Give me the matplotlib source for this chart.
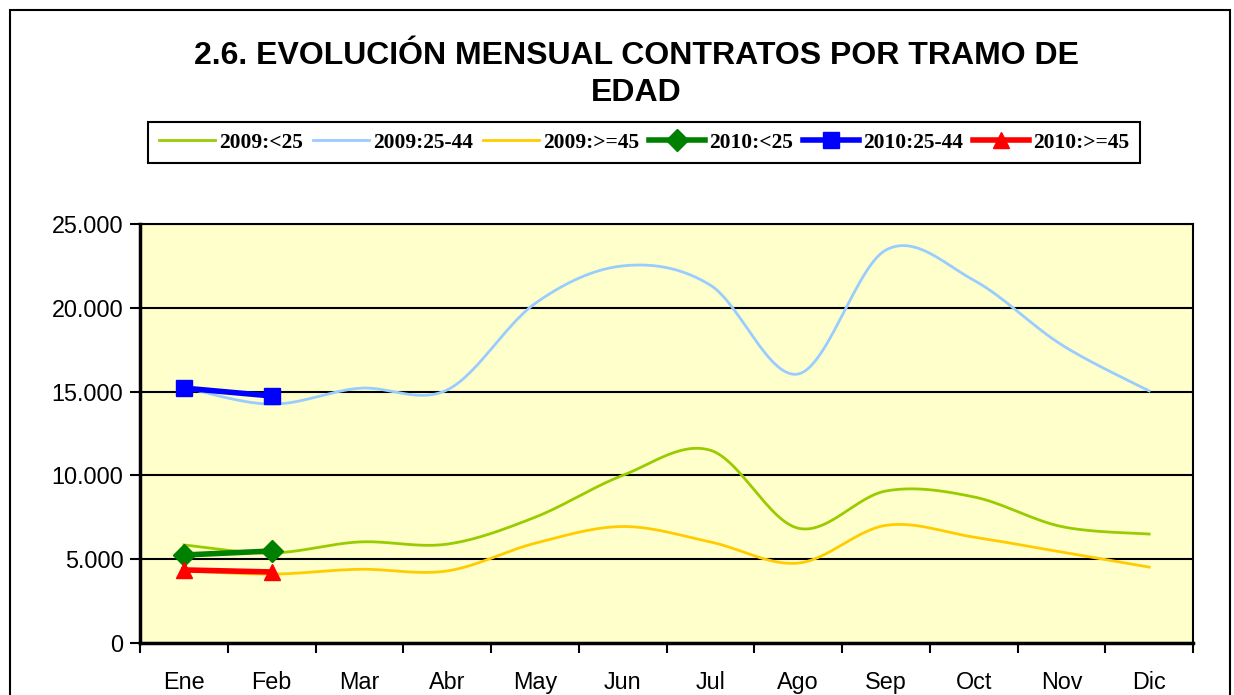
import numpy as np
import matplotlib
matplotlib.use("Agg")
import matplotlib.pyplot as plt
from matplotlib.patches import Rectangle

# datos
meses = ["Ene", "Feb", "Mar", "Abr", "May", "Jun", "Jul", "Ago", "Sep", "Oct", "Nov", "Dic"]
menores_25_2009 = [5850, 5370, 6030, 5900, 7500, 10000, 11500, 6850, 9070, 8720, 6950, 6500]
de_25_44_2009 = [15250, 14250, 15200, 15100, 20250, 22500, 21350, 16050, 23450, 21650, 17800, 15040]
mayores_45_2009 = [4320, 4110, 4400, 4300, 5950, 6950, 6030, 4770, 7020, 6320, 5430, 4530]
menores_25_2010 = [5250, 5490]
de_25_44_2010 = [15210, 14740]
mayores_45_2010 = [4360, 4240]


def suavizar(x, y, n=30):
    # curva tipo Excel (Bezier por Catmull-Rom)
    x = np.asarray(x, float)
    y = np.asarray(y, float)
    px = np.concatenate([[x[0]], x, [x[-1]]])
    py = np.concatenate([[y[0]], y, [y[-1]]])
    t = np.linspace(0, 1, n)
    xs, ys = [], []
    for i in range(1, len(px) - 2):
        p0 = np.array([px[i], py[i]])
        p3 = np.array([px[i + 1], py[i + 1]])
        p1 = p0 + (p3 - np.array([px[i - 1], py[i - 1]])) / 6
        p2 = p3 - (np.array([px[i + 2], py[i + 2]]) - p0) / 6
        b = ((1 - t) ** 3)[:, None] * p0 + (3 * (1 - t) ** 2 * t)[:, None] * p1 \
            + (3 * (1 - t) * t ** 2)[:, None] * p2 + (t ** 3)[:, None] * p3
        xs.append(b[:, 0])
        ys.append(b[:, 1])
    return np.concatenate(xs), np.concatenate(ys)


fig = plt.figure(figsize=(12.34, 6.95), dpi=100)
ax = fig.add_axes([0.1135, 0.0748, 0.8533, 0.6029])
ax.set_facecolor("#FFFFCC")

pos = np.arange(len(meses)) + 0.5
for vals, color, lab in [(menores_25_2009, "#99CC00", "2009:<25"),
                         (de_25_44_2009, "#99CCFF", "2009:25-44"),
                         (mayores_45_2009, "#FFCC00", "2009:>=45")]:
    sx, sy = suavizar(pos, vals)
    ax.plot(sx, sy, color=color, lw=2, label=lab, zorder=3)

pos10 = pos[:2]
ax.plot(pos10, menores_25_2010, color="#008000", lw=4, marker="D", ms=11, label="2010:<25", zorder=4)
ax.plot(pos10, de_25_44_2010, color="#0000FF", lw=4, marker="s", ms=12, label="2010:25-44", zorder=4)
ax.plot(pos10, mayores_45_2010, color="#FF0000", lw=4, marker="^", ms=12, label="2010:>=45", zorder=4)

ax.set_xlim(0, 12)
ax.set_ylim(0, 25000)
ax.set_yticks(np.arange(0, 25001, 5000))
ax.set_yticklabels(["0", "5.000", "10.000", "15.000", "20.000", "25.000"])
ax.yaxis.grid(True, color="black", lw=1.5)
ax.set_axisbelow(True)

ax.set_xticks(np.arange(0, 13))
ax.set_xticklabels([])
ax.set_xticks(pos, minor=True)
ax.set_xticklabels(meses, minor=True)
ax.tick_params(axis="x", which="major", length=7, width=1.5, direction="out")
ax.tick_params(axis="x", which="minor", length=0, pad=20)
ax.tick_params(axis="y", length=7, width=1.5, direction="out", pad=5)
for lbl in ax.get_xticklabels(minor=True) + ax.get_yticklabels():
    lbl.set_fontfamily("Liberation Sans")
    lbl.set_fontsize(16.8)

for s in ["left", "bottom"]:
    ax.spines[s].set_linewidth(2.5)
for s in ["top", "right"]:
    ax.spines[s].set_linewidth(1.5)

fig.text(0.516, 0.893, "2.6. EVOLUCIÓN MENSUAL CONTRATOS POR TRAMO DE\nEDAD",
         ha="center", va="center", fontsize=23, fontweight="bold",
         family="Liberation Sans", linespacing=1.3)

leg = fig.legend(loc="center", bbox_to_anchor=(0.522, 0.795), ncol=6,
                 prop={"family": "Liberation Serif", "weight": "bold", "size": 15.5},
                 handlelength=2.6, handletextpad=0.2, columnspacing=0.45,
                 fancybox=False, edgecolor="black", framealpha=1,
                 borderpad=0.5)
leg.get_frame().set_linewidth(1.5)

fig.patches.append(Rectangle((0.0081, -0.01), 0.9887, 0.9956, transform=fig.transFigure,
                             fill=False, edgecolor="black", lw=1.5))

fig.savefig("out.png", dpi=100)
